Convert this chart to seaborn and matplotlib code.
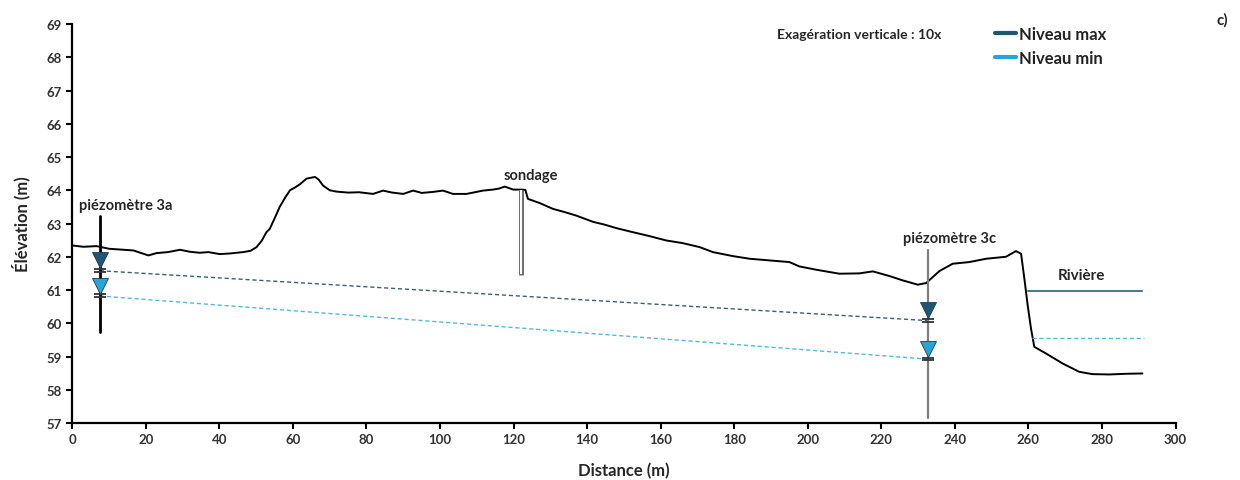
import numpy as np
import pandas as pd
import matplotlib
matplotlib.use("Agg")
import matplotlib.pyplot as plt
from matplotlib.lines import Line2D
import seaborn as sns

# Ground profile (distance m, elevation m)
profile_dist = [0, 3, 6.6, 10, 16.6, 20.7, 22.9, 26, 29.3, 32, 34.7, 37, 40.1, 43, 46.5, 48.5,
                50.1, 51.5, 52.8, 53.7, 55, 56.4, 58, 59.2, 60.5, 61.9, 63.7, 66, 67, 68.2,
                70, 71.8, 75, 78, 81.8, 84.5, 87, 90, 92.7, 95, 98.1, 100.8, 103.5, 107.2,
                109, 111.7, 114.4, 116, 117.6, 119.9, 122.1, 123.2, 123.9, 127, 130.7, 134,
                137, 141.6, 144.6, 148, 152.4, 157, 161.5, 166, 170.6, 174.2, 179.6, 184.2,
                189.6, 195, 197.7, 202.3, 208.6, 214, 217.7, 222.2, 225.8, 229.9, 232.2,
                235.8, 239.4, 243.9, 248.5, 253.9, 256.6, 258, 258.9, 259.8, 260.7, 261.6,
                264.8, 269.3, 273.8, 277.4, 282, 286.5, 291]
profile_elev = [62.34, 62.30, 62.32, 62.24, 62.19, 62.04, 62.11, 62.14, 62.21, 62.15, 62.12,
                62.14, 62.08, 62.10, 62.14, 62.18, 62.29, 62.48, 62.74, 62.84, 63.15, 63.50,
                63.80, 64.00, 64.08, 64.18, 64.35, 64.40, 64.32, 64.14, 64.00, 63.96, 63.93,
                63.94, 63.89, 63.99, 63.93, 63.89, 63.99, 63.92, 63.95, 63.99, 63.89, 63.89,
                63.93, 63.99, 64.02, 64.05, 64.11, 64.02, 64.02, 64.01, 63.74, 63.62, 63.44,
                63.34, 63.24, 63.05, 62.97, 62.86, 62.74, 62.62, 62.49, 62.41, 62.29, 62.14,
                62.02, 61.94, 61.89, 61.84, 61.71, 61.61, 61.49, 61.50, 61.56, 61.42, 61.29,
                61.16, 61.21, 61.57, 61.79, 61.84, 61.94, 62.00, 62.17, 62.09, 61.34, 60.54,
                59.84, 59.29, 59.09, 58.79, 58.54, 58.47, 58.46, 58.48, 58.49]

# Piezometers: position, water levels, casing extent
piezo_names = ["piézomètre 3a", "piézomètre 3c"]
piezo_x = [7.5, 232.6]
level_max = [61.58, 60.08]
level_min = [60.82, 58.92]
casing_top = [63.24, 62.19]
casing_bottom = [59.74, 57.14]

# Borehole (sondage)
sondage_x = 122.1
sondage_top = 64.0
sondage_bottom = 61.44

# River levels
river_max_x = [259.8, 291.0]
river_max = [60.97, 60.97]
river_min_x = [261.1, 291.5]
river_min = [59.57, 59.57]

C_MAX = "#1f5673"
C_MIN = "#2aa3d8"
C_MAX_DASH = "#3d5f74"
C_MIN_DASH = "#55b9d9"

sns.set_style("ticks")
plt.rcParams["font.family"] = ["Lato", "DejaVu Sans"]
plt.rcParams["font.weight"] = "bold"

fig = plt.figure(figsize=(12.4, 4.81), dpi=100)
ax = fig.add_axes([0.0583, 0.1185, 0.8897, 0.8295])

df = pd.DataFrame({"dist": profile_dist, "elev": profile_elev})
sns.lineplot(data=df, x="dist", y="elev", ax=ax, color="black", lw=1.4, sort=False)

# water table lines between piezometers (dashed)
ax.plot(piezo_x, level_max, ls=(0, (3, 2)), color=C_MAX_DASH, lw=1.0)
ax.plot(piezo_x, level_min, ls=(0, (3, 2)), color=C_MIN_DASH, lw=1.0)

# river levels
ax.plot(river_max_x, river_max, color="#4d7b8c", lw=1.5)
ax.plot(river_min_x, river_min, ls=(0, (3, 2)), color=C_MIN_DASH, lw=1.0)

# piezometer casings
ax.plot([piezo_x[0]] * 2, [casing_bottom[0], casing_top[0]], color="black", lw=2)
ax.plot([piezo_x[1]] * 2, [casing_bottom[1], casing_top[1]], color="#7f7f7f", lw=1.6)

# level marks: double bars and triangles
for x, lmax, lmin in zip(piezo_x, level_max, level_min):
    for lv, col in ((lmax, C_MAX), (lmin, C_MIN)):
        ax.plot([x, x], [lv + 0.05, lv - 0.04], ls="none", marker="_", ms=8, mew=1.3,
                color="#333333")
        ax.plot(x, lv + 0.31, ls="none", marker="v", ms=12, color=col,
                mec="#1a3d50", mew=0.6)

# sondage
ax.plot([sondage_x] * 2, [sondage_bottom, sondage_top], color="#6f6f6f", lw=3.6,
        solid_capstyle="butt")
ax.plot([sondage_x] * 2, [sondage_bottom + 0.04, sondage_top], color="white", lw=1.4,
        solid_capstyle="butt")

# annotations
ax.text(1.8, 63.56, piezo_names[0], fontsize=10.5, fontweight="bold", va="center", ha="left")
ax.text(238.5, 62.56, piezo_names[1], fontsize=10.5, fontweight="bold", va="center", ha="center")
ax.text(124.8, 64.47, "sondage", fontsize=10.5, fontweight="bold", va="center", ha="center")
ax.text(274.5, 61.46, "Rivière", fontsize=11, fontweight="bold", va="center", ha="center")
ax.text(214, 68.7, "Exagération verticale : 10x", fontsize=10, fontweight="bold",
        va="center", ha="center")
fig.text(0.986, 0.958, "c)", fontsize=11, fontweight="bold", ha="center", va="center")

handles = [Line2D([], [], color=C_MAX, lw=3), Line2D([], [], color=C_MIN, lw=3)]
leg = fig.legend(handles, ["Niveau max", "Niveau min"], loc="upper left",
                 bbox_to_anchor=(0.790, 0.975), frameon=False, handlelength=1.3,
                 handletextpad=0.15, labelspacing=0.45, prop={"size": 12, "weight": "bold"})
for t in leg.get_texts():
    t.set_color("#222222")

ax.set_xlim(0, 300)
ax.set_ylim(57, 69)
ax.set_xticks(np.arange(0, 301, 20))
ax.set_yticks(np.arange(57, 70, 1))
ax.tick_params(axis="both", direction="out", length=4, width=1.5, labelsize=9.5,
               colors="black", labelcolor="#333333")
for lab in ax.get_xticklabels() + ax.get_yticklabels():
    lab.set_fontweight("bold")
ax.set_xlabel("Distance (m)", fontsize=12, fontweight="bold", labelpad=12)
ax.set_ylabel("Élévation (m)", fontsize=12, fontweight="bold", labelpad=12)
sns.despine(ax=ax)
for s in ("left", "bottom"):
    ax.spines[s].set_linewidth(1.6)
    ax.spines[s].set_color("black")

fig.savefig("out.png", dpi=100)
